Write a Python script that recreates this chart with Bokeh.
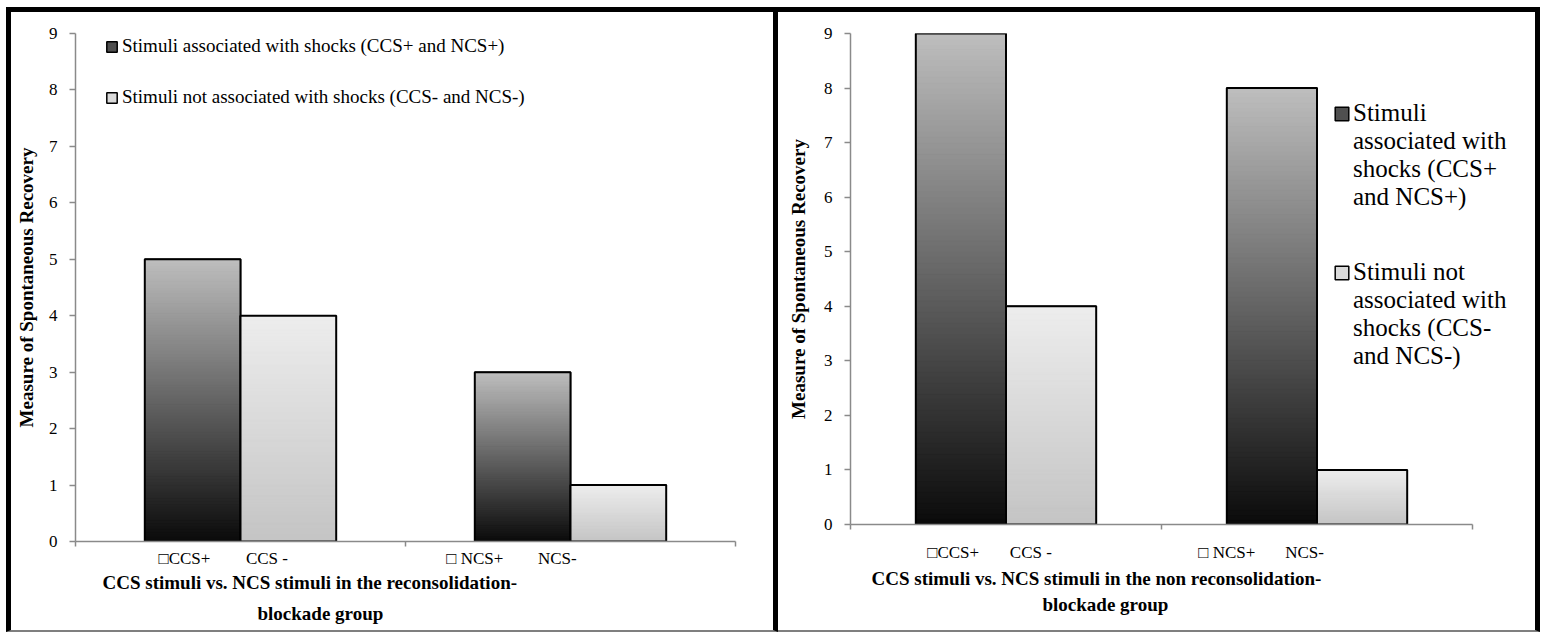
from bokeh.plotting import figure
from bokeh.models import Range1d, FixedTicker, Legend, LegendItem, ColumnDataSource, Title
from bokeh.layouts import row
from bokeh.embed import file_html
from bokeh.resources import INLINE

# ---------------- data ----------------
categories = ["CCS", "NCS"]
tick_labels = ["\u25a1CCS+", "CCS -", "\u25a1 NCS+", "NCS-"]
left_shock = [5, 3]
left_noshock = [4, 1]
right_shock = [9, 8]
right_noshock = [4, 1]
y_ticks = [0, 1, 2, 3, 4, 5, 6, 7, 8, 9]
y_label = "Measure of Spontaneous Recovery"
legend_left = ["Stimuli associated with shocks (CCS+ and NCS+)",
               "Stimuli not associated with shocks (CCS- and NCS-)"]
legend_right = [["Stimuli", "associated with", "shocks (CCS+", "and NCS+)"],
                ["Stimuli not", "associated with", "shocks (CCS-", "and NCS-)"]]
title_left = ["CCS stimuli vs. NCS stimuli in the reconsolidation-", "blockade group"]
title_right = ["CCS stimuli vs. NCS stimuli in the non reconsolidation-", "blockade group"]

# ---------------- style ----------------
FONT = "Liberation Serif"
BAR_W = 0.29
TICK_POS = [0.33, 0.58, 1.21, 1.46]
DARK = ((10, 10, 10), (190, 190, 190))
LIGHT = ((196, 196, 196), (237, 237, 237))
SWATCH = ("#4f4f4f", "#dadada")
AXIS_GRAY = "#8a8a8a"


def mix(c0, c1, t):
    return "#%02x%02x%02x" % tuple(int(round(a + (b - a) * t)) for a, b in zip(c0, c1))


def gradient_source(values, side, cols, n=90):
    d = dict(left=[], right=[], bottom=[], top=[], color=[])
    for i, v in enumerate(values):
        c = i + 0.5
        x0 = c - BAR_W if side == 0 else c
        for k in range(n):
            d["left"].append(x0)
            d["right"].append(x0 + BAR_W)
            d["bottom"].append(v * k / n)
            d["top"].append(v * (k + 1) / n)
            d["color"].append(mix(cols[0], cols[1], (k + 0.5) / n))
    return ColumnDataSource(d)


def bar_source(values, side):
    xs = [i + 0.5 - (BAR_W if side == 0 else 0) for i in range(len(values))]
    return ColumnDataSource(dict(left=xs, right=[x + BAR_W for x in xs],
                                 bottom=[0] * len(values), top=values))


def panel(shock, noshock, width, height, mb, x_end, y_standoff, x_standoff, titles,
          title_offsets, title_standoffs, border_styles):
    p = figure(width=width, height=height, x_range=Range1d(0, x_end), y_range=Range1d(0, 9),
               output_backend="svg", toolbar_location=None, frame_align=False,
               min_border_left=mb[0], min_border_right=mb[1], min_border_top=mb[2],
               min_border_bottom=mb[3], styles=border_styles)
    p.outline_line_color = None
    p.grid.visible = False
    p.background_fill_color = "white"
    p.border_fill_color = "white"

    base = []
    ghost = None
    for vals, side, cols, sw in ((shock, 0, DARK, SWATCH[0]), (noshock, 1, LIGHT, SWATCH[1])):
        src = bar_source(vals, side)
        base.append(p.quad(left="left", right="right", bottom="bottom", top="top", source=src,
                           fill_color=sw, line_color="black", line_width=1.5))
        p.quad(left="left", right="right", bottom="bottom", top="top",
               source=gradient_source(vals, side, cols),
               fill_color="color", line_color="color", line_width=1)
        p.quad(left="left", right="right", bottom="bottom", top="top", source=src,
               fill_color=None, line_color="black", line_width=2)
        if ghost is None:
            ghost = p.quad(left="left", right="right", bottom="bottom", top="top", source=src,
                           fill_alpha=0, line_alpha=0)

    # y axis
    ya = p.yaxis[0]
    ya.ticker = FixedTicker(ticks=y_ticks)
    ya.axis_label = y_label
    ya.axis_label_text_font = FONT
    ya.axis_label_text_font_style = "bold"
    ya.axis_label_text_font_size = "19px"
    ya.axis_label_text_color = "black"
    ya.axis_label_standoff = y_standoff
    ya.major_label_text_font = FONT
    ya.major_label_text_font_size = "17px"
    ya.major_label_text_color = "black"
    ya.major_label_standoff = 12
    ya.axis_line_color = AXIS_GRAY
    ya.axis_line_width = 1.5
    ya.major_tick_line_color = AXIS_GRAY
    ya.major_tick_line_width = 1.5
    ya.major_tick_out = 6
    ya.major_tick_in = 0
    ya.minor_tick_line_color = None

    # x axis
    xa = p.xaxis[0]
    xa.bounds = (0, 2)
    xa.ticker = FixedTicker(ticks=TICK_POS, minor_ticks=[0, 1, 2])
    xa.major_label_overrides = {t: lab for t, lab in zip(TICK_POS, tick_labels)}
    xa.major_label_text_font = FONT
    xa.major_label_text_font_size = "17px"
    xa.major_label_text_color = "black"
    xa.major_label_standoff = x_standoff
    xa.major_tick_line_color = None
    xa.major_tick_out = 0
    xa.major_tick_in = 0
    xa.minor_tick_line_color = AXIS_GRAY
    xa.minor_tick_line_width = 1.5
    xa.minor_tick_out = 5
    xa.minor_tick_in = 0
    xa.axis_line_color = AXIS_GRAY
    xa.axis_line_width = 1.5

    for txt, off, so in zip(titles, title_offsets, title_standoffs):
        t = Title(text=txt, align="left", offset=off, standoff=so, vertical_align="middle",
                  text_font=FONT, text_font_style="bold", text_font_size="19px",
                  text_color="black")
        p.add_layout(t, "below")
    return p, base, ghost


left_styles = {"box-sizing": "content-box",
               "border-left": "5px solid black", "border-top": "5px solid black",
               "border-right": "5px solid black", "border-bottom": "2px solid #7f7f7f",
               "margin-left": "6px", "margin-top": "7px"}
right_styles = {"box-sizing": "content-box",
                "border-top": "5px solid black", "border-right": "5px solid black",
                "border-bottom": "2px solid #7f7f7f", "margin-top": "7px"}

# canvas is measured including the css borders (+10 / +7 on the left, +5 / +7 on the right)
p1, b1, g1 = panel(left_shock, left_noshock, 762, 618, (64, 48, 21, 96), 2, 9, 2,
                   title_left, [27, 182], [1, 14], left_styles)
p2, b2, g2 = panel(right_shock, right_noshock, 757, 618, (72, 10, 21, 113), 680 / 311, 12, 13,
                   title_right, [21, 192], [4, 2], right_styles)

leg1 = Legend(items=[LegendItem(label=legend_left[i], renderers=[b1[i]]) for i in range(2)],
              location=(30, 432), orientation="vertical", glyph_width=13, glyph_height=13,
              label_height=24, spacing=27, padding=0, margin=0, label_standoff=4,
              label_text_font=FONT, label_text_font_size="19px", label_text_color="black",
              background_fill_alpha=0, border_line_alpha=0)
p1.add_layout(leg1)

for i, y_loc in ((0, 313), (1, 154)):
    lines = legend_right[i]
    items = [LegendItem(label=lines[0], renderers=[b2[i]])]
    items += [LegendItem(label=ln, renderers=[g2]) for ln in lines[1:]]
    leg = Legend(items=items, location=(483, y_loc), orientation="vertical",
                 glyph_width=17, glyph_height=17, label_height=24, spacing=0,
                 padding=0, margin=0, label_standoff=3,
                 label_text_font=FONT, label_text_font_size="25px", label_text_color="black",
                 background_fill_alpha=0, border_line_alpha=0)
    p2.add_layout(leg)

layout = row(p1, p2)
open("out.html", "w").write(file_html(layout, INLINE))
